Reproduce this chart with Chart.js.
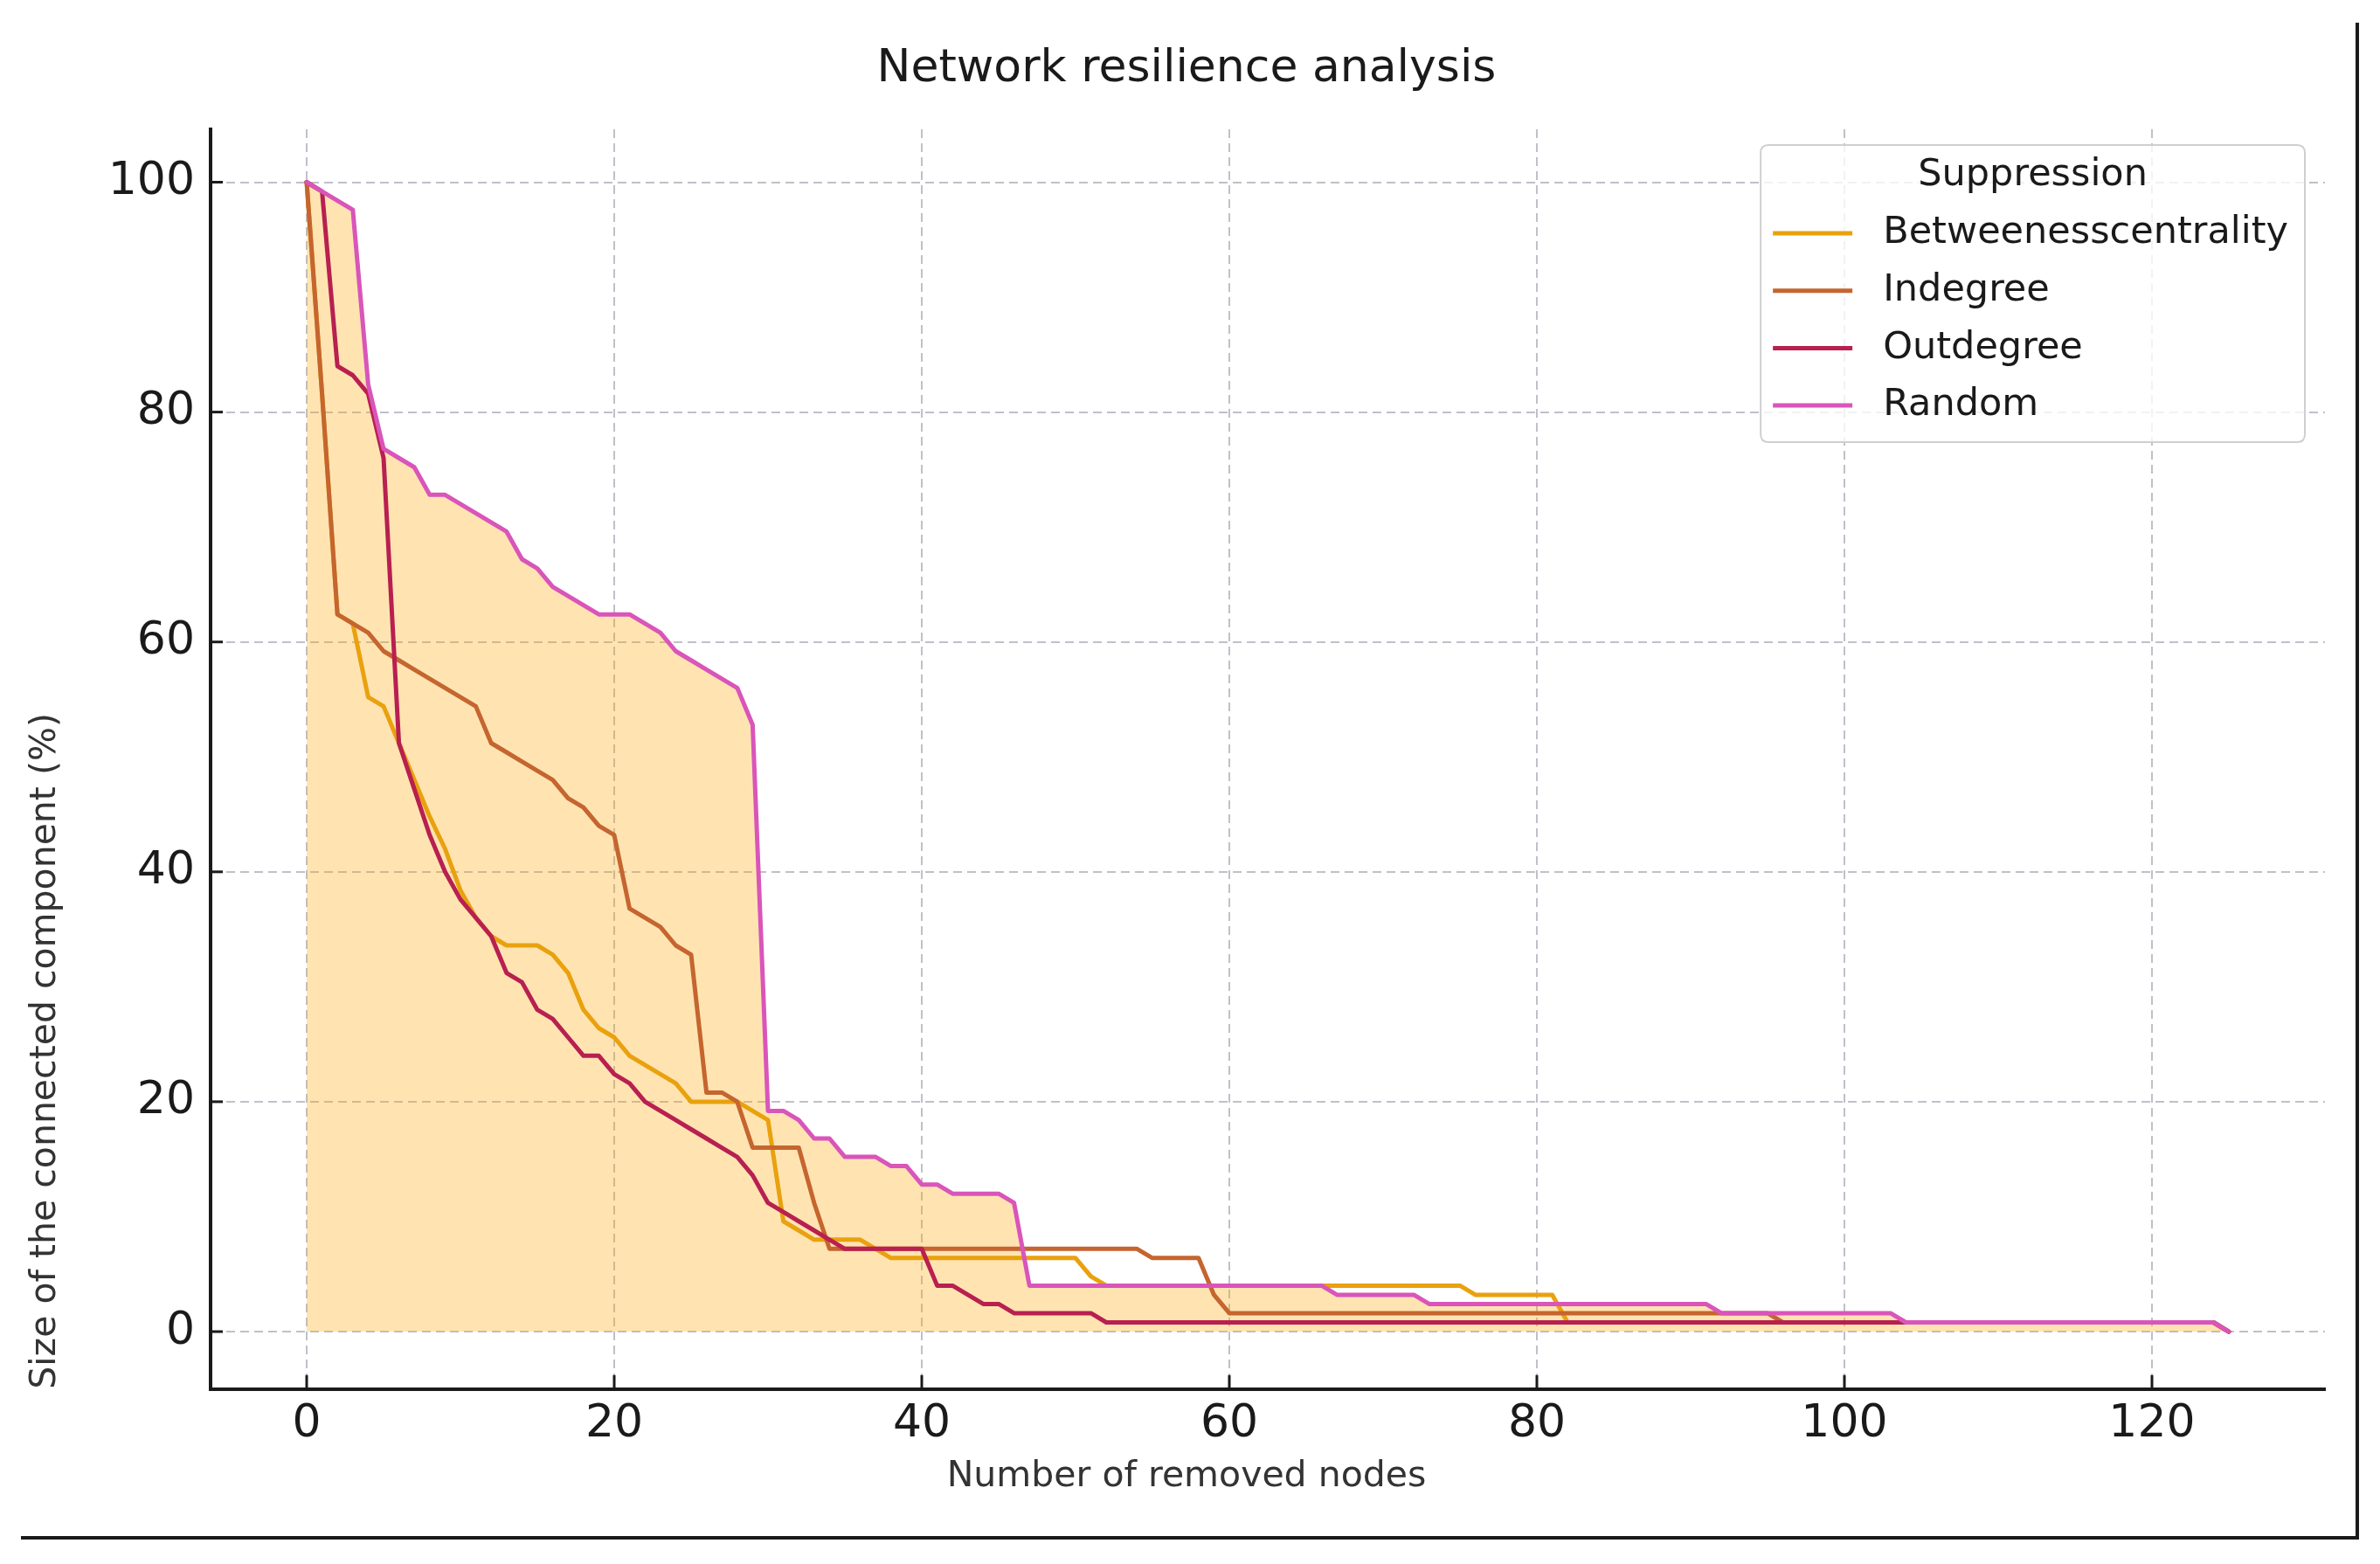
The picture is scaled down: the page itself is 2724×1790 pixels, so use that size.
<!DOCTYPE html>
<html><head><meta charset="utf-8">
<script src="https://cdn.jsdelivr.net/npm/chart.js@4.4.1/dist/chart.umd.min.js"></script>
<style>
html,body{margin:0;padding:0;background:#fff;}
#wrap{position:relative;width:2724px;height:1790px;}
#frame{position:absolute;left:24px;top:26px;width:2672px;height:1732px;border-right:4px solid #1a1a1a;border-bottom:4px solid #1a1a1a;}
canvas{position:absolute;left:0;top:0;}
</style></head>
<body><div id="wrap"><div id="frame"></div><canvas id="c" width="2724" height="1790"></canvas></div>
<script>
const chartTitle = 'Network resilience analysis';
const xAxisLabel = 'Number of removed nodes';
const yAxisLabel = 'Size of the connected component (%)';
const legendTitle = 'Suppression';
const seriesNames = ['Betweenesscentrality', 'Indegree', 'Outdegree', 'Random'];
const seriesColors = ['#E9A10E', '#C5652F', '#B82050', '#D955BA'];
const xTickValues = [0, 20, 40, 60, 80, 100, 120];
const yTickValues = [0, 20, 40, 60, 80, 100];

const nodesRemoved = [
  0,1,2,3,4,5,6,7,8,9,
  10,11,12,13,14,15,16,17,18,19,
  20,21,22,23,24,25,26,27,28,29,
  30,31,32,33,34,35,36,37,38,39,
  40,41,42,43,44,45,46,47,48,49,
  50,51,52,53,54,55,56,57,58,59,
  60,61,62,63,64,65,66,67,68,69,
  70,71,72,73,74,75,76,77,78,79,
  80,81,82,83,84,85,86,87,88,89,
  90,91,92,93,94,95,96,97,98,99,
  100,101,102,103,104,105,106,107,108,109,
  110,111,112,113,114,115,116,117,118,119,
  120,121,122,123,124,125
];

const betweenness = [
  100, 81.6, 62.4, 61.6, 55.2, 54.4, 51.2, 48.0, 44.8, 42.0,
  38.4, 36.0, 34.4, 33.6, 33.6, 33.6, 32.8, 31.2, 28.0, 26.4,
  25.6, 24.0, 23.2, 22.4, 21.6, 20.0, 20.0, 20.0, 20.0, 19.2,
  18.4, 9.6, 8.8, 8.0, 8.0, 8.0, 8.0, 7.2, 6.4, 6.4,
  6.4, 6.4, 6.4, 6.4, 6.4, 6.4, 6.4, 6.4, 6.4, 6.4,
  6.4, 4.8, 4.0, 4.0, 4.0, 4.0, 4.0, 4.0, 4.0, 4.0,
  4.0, 4.0, 4.0, 4.0, 4.0, 4.0, 4.0, 4.0, 4.0, 4.0,
  4.0, 4.0, 4.0, 4.0, 4.0, 4.0, 3.2, 3.2, 3.2, 3.2,
  3.2, 3.2, 0.8, 0.8, 0.8, 0.8, 0.8, 0.8, 0.8, 0.8,
  0.8, 0.8, 0.8, 0.8, 0.8, 0.8, 0.8, 0.8, 0.8, 0.8,
  0.8, 0.8, 0.8, 0.8, 0.8, 0.8, 0.8, 0.8, 0.8, 0.8,
  0.8, 0.8, 0.8, 0.8, 0.8, 0.8, 0.8, 0.8, 0.8, 0.8,
  0.8, 0.8, 0.8, 0.8, 0.8, 0
];

const indegree = [
  100, 81.6, 62.4, 61.6, 60.8, 59.2, 58.4, 57.6, 56.8, 56.0,
  55.2, 54.4, 51.2, 50.4, 49.6, 48.8, 48.0, 46.4, 45.6, 44.0,
  43.2, 36.8, 36.0, 35.2, 33.6, 32.8, 20.8, 20.8, 20.0, 16.0,
  16.0, 16.0, 16.0, 11.2, 7.2, 7.2, 7.2, 7.2, 7.2, 7.2,
  7.2, 7.2, 7.2, 7.2, 7.2, 7.2, 7.2, 7.2, 7.2, 7.2,
  7.2, 7.2, 7.2, 7.2, 7.2, 6.4, 6.4, 6.4, 6.4, 3.2,
  1.6, 1.6, 1.6, 1.6, 1.6, 1.6, 1.6, 1.6, 1.6, 1.6,
  1.6, 1.6, 1.6, 1.6, 1.6, 1.6, 1.6, 1.6, 1.6, 1.6,
  1.6, 1.6, 1.6, 1.6, 1.6, 1.6, 1.6, 1.6, 1.6, 1.6,
  1.6, 1.6, 1.6, 1.6, 1.6, 1.6, 0.8, 0.8, 0.8, 0.8,
  0.8, 0.8, 0.8, 0.8, 0.8, 0.8, 0.8, 0.8, 0.8, 0.8,
  0.8, 0.8, 0.8, 0.8, 0.8, 0.8, 0.8, 0.8, 0.8, 0.8,
  0.8, 0.8, 0.8, 0.8, 0.8, 0
];

const outdegree = [
  100, 99.2, 84.0, 83.2, 81.6, 76.0, 51.2, 47.2, 43.2, 40.0,
  37.6, 36.0, 34.4, 31.2, 30.4, 28.0, 27.2, 25.6, 24.0, 24.0,
  22.4, 21.6, 20.0, 19.2, 18.4, 17.6, 16.8, 16.0, 15.2, 13.6,
  11.2, 10.4, 9.6, 8.8, 8.0, 7.2, 7.2, 7.2, 7.2, 7.2,
  7.2, 4.0, 4.0, 3.2, 2.4, 2.4, 1.6, 1.6, 1.6, 1.6,
  1.6, 1.6, 0.8, 0.8, 0.8, 0.8, 0.8, 0.8, 0.8, 0.8,
  0.8, 0.8, 0.8, 0.8, 0.8, 0.8, 0.8, 0.8, 0.8, 0.8,
  0.8, 0.8, 0.8, 0.8, 0.8, 0.8, 0.8, 0.8, 0.8, 0.8,
  0.8, 0.8, 0.8, 0.8, 0.8, 0.8, 0.8, 0.8, 0.8, 0.8,
  0.8, 0.8, 0.8, 0.8, 0.8, 0.8, 0.8, 0.8, 0.8, 0.8,
  0.8, 0.8, 0.8, 0.8, 0.8, 0.8, 0.8, 0.8, 0.8, 0.8,
  0.8, 0.8, 0.8, 0.8, 0.8, 0.8, 0.8, 0.8, 0.8, 0.8,
  0.8, 0.8, 0.8, 0.8, 0.8, 0
];

const random = [
  100, 99.2, 98.4, 97.6, 82.4, 76.8, 76.0, 75.2, 72.8, 72.8,
  72.0, 71.2, 70.4, 69.6, 67.2, 66.4, 64.8, 64.0, 63.2, 62.4,
  62.4, 62.4, 61.6, 60.8, 59.2, 58.4, 57.6, 56.8, 56.0, 52.8,
  19.2, 19.2, 18.4, 16.8, 16.8, 15.2, 15.2, 15.2, 14.4, 14.4,
  12.8, 12.8, 12.0, 12.0, 12.0, 12.0, 11.2, 4.0, 4.0, 4.0,
  4.0, 4.0, 4.0, 4.0, 4.0, 4.0, 4.0, 4.0, 4.0, 4.0,
  4.0, 4.0, 4.0, 4.0, 4.0, 4.0, 4.0, 3.2, 3.2, 3.2,
  3.2, 3.2, 3.2, 2.4, 2.4, 2.4, 2.4, 2.4, 2.4, 2.4,
  2.4, 2.4, 2.4, 2.4, 2.4, 2.4, 2.4, 2.4, 2.4, 2.4,
  2.4, 2.4, 1.6, 1.6, 1.6, 1.6, 1.6, 1.6, 1.6, 1.6,
  1.6, 1.6, 1.6, 1.6, 0.8, 0.8, 0.8, 0.8, 0.8, 0.8,
  0.8, 0.8, 0.8, 0.8, 0.8, 0.8, 0.8, 0.8, 0.8, 0.8,
  0.8, 0.8, 0.8, 0.8, 0.8, 0
];

const seriesValues = [betweenness, indegree, outdegree, random];
const FONT = "'DejaVu Sans', sans-serif";
const TEXT = '#1a1a1a';

const inwardTicks = {
  id: 'inwardTicks',
  afterDatasetsDraw(chart) {
    const {ctx, chartArea, scales} = chart;
    ctx.save();
    ctx.strokeStyle = TEXT;
    ctx.lineWidth = 3;
    scales.x.ticks.forEach(t => {
      const px = scales.x.getPixelForValue(t.value);
      ctx.beginPath(); ctx.moveTo(px, chartArea.bottom); ctx.lineTo(px, chartArea.bottom - 16); ctx.stroke();
    });
    scales.y.ticks.forEach(t => {
      const py = scales.y.getPixelForValue(t.value);
      ctx.beginPath(); ctx.moveTo(chartArea.left, py); ctx.lineTo(chartArea.left + 14, py); ctx.stroke();
    });
    ctx.restore();
  }
};

const boxLegend = {
  id: 'boxLegend',
  afterDraw(chart) {
    const {ctx, chartArea} = chart;
    const sets = chart.data.datasets;
    ctx.save();
    ctx.font = `43px ${FONT}`;
    const maxW = Math.max(...sets.map(d => ctx.measureText(d.label).width));
    const padL = 14, lineLen = 91, gap = 35, padR = 19;
    const w = padL + lineLen + gap + maxW + padR;
    const right = chartArea.right - 23, top = chartArea.top + 18;
    const left = right - w;
    const rowH = 65.7, firstRow = top + 101;
    const h = 101 + (sets.length - 1) * rowH + 42;
    const r = 9;
    ctx.beginPath();
    ctx.moveTo(left + r, top);
    ctx.lineTo(left + w - r, top); ctx.quadraticCurveTo(left + w, top, left + w, top + r);
    ctx.lineTo(left + w, top + h - r); ctx.quadraticCurveTo(left + w, top + h, left + w - r, top + h);
    ctx.lineTo(left + r, top + h); ctx.quadraticCurveTo(left, top + h, left, top + h - r);
    ctx.lineTo(left, top + r); ctx.quadraticCurveTo(left, top, left + r, top);
    ctx.closePath();
    ctx.fillStyle = 'rgba(255,255,255,0.8)';
    ctx.fill();
    ctx.strokeStyle = '#cfcfcf';
    ctx.lineWidth = 2;
    ctx.stroke();
    ctx.fillStyle = TEXT;
    ctx.textAlign = 'center';
    ctx.textBaseline = 'middle';
    ctx.fillText(legendTitle, left + w / 2, top + 35);
    ctx.textAlign = 'left';
    sets.forEach((d, i) => {
      const yy = firstRow + i * rowH;
      ctx.strokeStyle = d.borderColor;
      ctx.lineWidth = 5;
      ctx.beginPath(); ctx.moveTo(left + padL, yy); ctx.lineTo(left + padL + lineLen, yy); ctx.stroke();
      ctx.fillStyle = TEXT;
      ctx.fillText(d.label, left + padL + lineLen + gap, yy);
    });
    ctx.restore();
  }
};

const gridOpts = { color: 'rgba(165,165,180,0.7)', lineWidth: 2, drawTicks: false };
const borderOpts = { display: true, color: TEXT, width: 4, dash: [10, 6] };

new Chart(document.getElementById('c').getContext('2d'), {
  type: 'line',
  data: {
    datasets: seriesNames.map((name, i) => ({
      label: name,
      data: nodesRemoved.map((x, j) => ({ x: x, y: seriesValues[i][j] })),
      borderColor: seriesColors[i],
      backgroundColor: i === 3 ? 'rgba(255,165,0,0.3)' : 'rgba(0,0,0,0)',
      fill: i === 3 ? 'origin' : false,
      borderWidth: 5,
      pointRadius: 0,
      tension: 0,
      borderJoinStyle: 'round',
      borderCapStyle: 'round',
      order: 3 - i
    }))
  },
  options: {
    responsive: false,
    animation: false,
    devicePixelRatio: 1,
    layout: { padding: { left: 55, right: 63, top: 0, bottom: 0 } },
    plugins: {
      legend: { display: false },
      tooltip: { enabled: false },
      filler: { drawTime: 'beforeDatasetsDraw' },
      title: {
        display: true, text: chartTitle, color: TEXT,
        font: { family: FONT, size: 52, weight: 'normal' },
        padding: { top: 48, bottom: 37.6 }
      },
      subtitle: {
        display: true, position: 'bottom', text: xAxisLabel, color: '#333',
        font: { family: FONT, size: 41, weight: 'normal' },
        padding: { top: 0, bottom: 75 }
      }
    },
    scales: {
      x: {
        type: 'linear', min: -6.25, max: 131.25,
        afterBuildTicks: s => { s.ticks = xTickValues.map(v => ({ value: v })); },
        afterFit: s => { s.height = 76; },
        grid: gridOpts, border: borderOpts,
        ticks: { color: TEXT, padding: 9, maxRotation: 0, autoSkip: false, font: { family: FONT, size: 52 } }
      },
      y: {
        type: 'linear', min: -5, max: 104.6,
        afterBuildTicks: s => { s.ticks = yTickValues.map(v => ({ value: v })); },
        afterFit: s => { s.width = 186; },
        grid: gridOpts, border: borderOpts,
        ticks: { color: TEXT, padding: 18, autoSkip: false, font: { family: FONT, size: 52 } },
        title: {
          display: true, text: yAxisLabel, align: 'start', color: '#333',
          font: { family: FONT, size: 41, weight: 'normal' },
          padding: { top: -27.6, bottom: 0 }
        }
      }
    }
  },
  plugins: [inwardTicks, boxLegend]
});
</script>
</body></html>
